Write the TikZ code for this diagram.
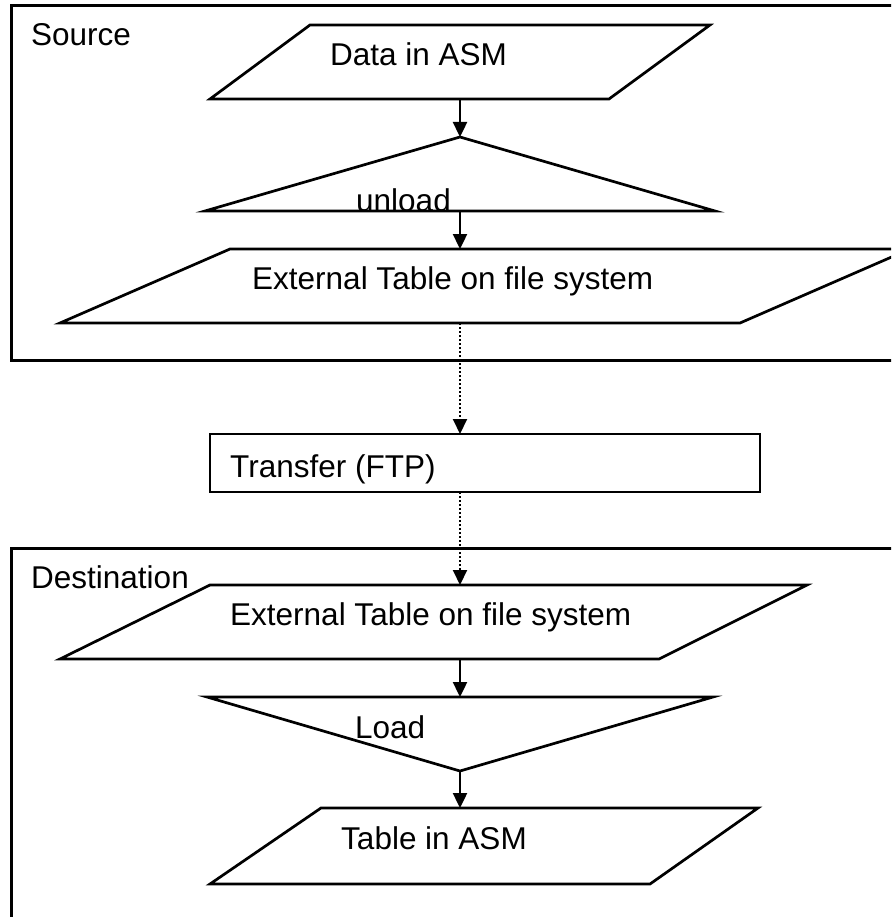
\documentclass[tikz,border=0pt]{standalone}
\usepackage{fontspec}
\setmainfont{Liberation Sans}
\usetikzlibrary{arrows.meta}
\begin{document}
\begin{tikzpicture}[x=1pt,y=-1pt,
  outline/.style={draw=black,line width=3pt,line join=miter},
  shapeline/.style={draw=black,line width=2.7pt,line join=miter},
  flow/.style={draw=black,line width=2.4pt,-{Triangle[length=15pt,width=14pt]}},
  transfer/.style={draw=black,line width=2pt,dotted,-{Triangle[length=15pt,width=14pt]}},
  lbl/.style={anchor=base west,inner sep=0pt,font=\fontsize{31.5}{36}\selectfont}]
\clip (0,0) rectangle (891,917);
\fill[white] (0,0) rectangle (891,917);

% group frames
\draw[outline] (11,6) rectangle (905,360);
\draw[outline] (11,548) rectangle (905,930);
\node[lbl] (srclbl) at (31,46) {Source};
\node[lbl] (dstlbl) at (31,588) {Destination};

% source side
\draw[shapeline] (310,25) -- (710,25) -- (609,99) -- (210,99) -- cycle;
\node[lbl] (data) at (330,66) {Data in ASM};
\coordinate (dataB) at (460,99);

\draw[shapeline] (460,137) -- (715,211) -- (205,211) -- cycle;
\coordinate (unT) at (460,137);
\coordinate (unB) at (460,211);
\node[lbl] (unload) at (356,212) {unload};

\draw[shapeline] (230,249) -- (910,249) -- (740,323) -- (60,323) -- cycle;
\node[lbl] (ext1) at (252,289) {External Table on file system};
\coordinate (ext1T) at (460,249);
\coordinate (ext1B) at (460,323);

% transfer step
\draw[outline,line width=2.5pt] (210,434) rectangle (760,492);
\node[lbl] (ftp) at (230,477) {Transfer (FTP)};
\coordinate (ftpT) at (460,434);
\coordinate (ftpB) at (460,492);

% destination side
\draw[shapeline] (210,585) -- (807,585) -- (659,659) -- (60,659) -- cycle;
\node[lbl] (ext2) at (230,625) {External Table on file system};
\coordinate (ext2T) at (460,585);
\coordinate (ext2B) at (460,659);

\draw[shapeline] (207,697) -- (713,697) -- (460,771) -- cycle;
\coordinate (ldT) at (460,697);
\coordinate (ldB) at (460,771);
\node[lbl] (load) at (355,738) {Load};

\draw[shapeline] (321,808) -- (758,808) -- (650,884) -- (210,884) -- cycle;
\node[lbl] (tbl) at (341,849) {Table in ASM};
\coordinate (tblT) at (460,808);

% connectors
\draw[flow] (dataB) -- (unT);
\draw[flow] (unB) -- (ext1T);
\draw[transfer] (ext1B) -- (ftpT);
\draw[transfer] (ftpB) -- (ext2T);
\draw[flow] (ext2B) -- (ldT);
\draw[flow] (ldB) -- (tblT);
\end{tikzpicture}
\end{document}
